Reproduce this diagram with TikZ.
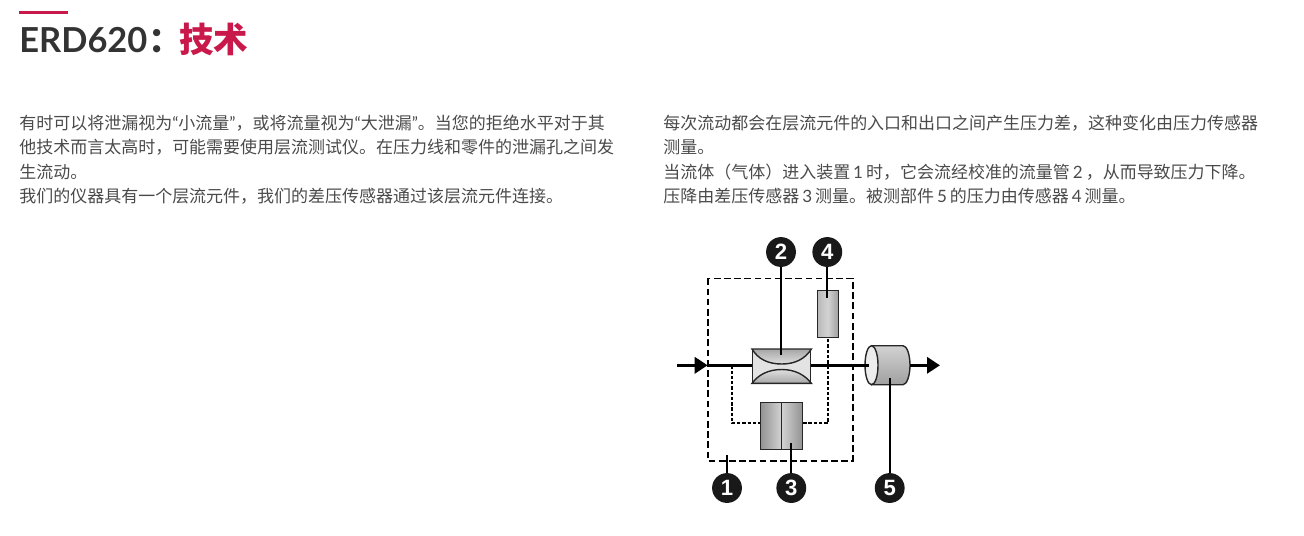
\documentclass[tikz,border=0pt]{standalone}
\usepackage{fontspec}
\setmainfont{Lato}
\newfontfamily\cjk{Noto Sans CJK SC}
\newcommand{\lat}[1]{{\rmfamily #1}}
\newcommand{\dgt}[1]{\hspace{1.7pt}{\rmfamily #1}\hspace{1.7pt}}
\usetikzlibrary{arrows.meta,shapes.geometric}
\definecolor{crimson}{HTML}{C9184A}
\definecolor{inktext}{HTML}{4A4A4A}
\definecolor{inkhead}{HTML}{333333}
\tikzset{
	bodyline/.style={anchor=base west, inner sep=0pt, text=inktext, font=\fontsize{9.67pt}{11pt}\selectfont\cjk},
	headline/.style={anchor=base west, inner sep=0pt, font=\fontsize{19.6pt}{22pt}\selectfont\bfseries},
	callout/.style={circle, fill=black!90, text=white, inner sep=0pt, minimum size=17pt, font=\fontsize{12.6pt}{13pt}\selectfont\fontspec{Liberation Sans Bold}},
	leader/.style={line width=1.25pt},
	flowline/.style={line width=2pt},
	senseline/.style={line width=1.15pt, dash pattern=on 1.9pt off 1.1pt},
	unit/.style={draw=black!85, line width=0.8pt, inner sep=0pt},
}
\begin{document}
\begin{tikzpicture}[x=0.02cm,y=-0.02cm]
	\useasboundingbox (0,0) rectangle (1304,535);
	% heading
	\fill[crimson] (19,11) rectangle (68,14);
	\node[headline, text=inkhead] (title) at (19,52.5) {ERD620};
	\node[headline, text=inkhead, font=\fontsize{19.6pt}{22pt}\selectfont\cjk\bfseries] (colon) at (title.base east) {^^^^ff1a};
	\node[headline, text=crimson, font=\fontsize{19.6pt}{22pt}\selectfont\cjk\bfseries] (topic) at (179,52.5) {技术};

	% left column
	\node[bodyline] (la) at (19,129) {有时可以将泄漏视为\lat{“}小流量\lat{”}^^^^ff0c或将流量视为\lat{“}大泄漏\lat{”}。当您的拒绝水平对于其};
	\node[bodyline] (lb) at (19,153) {他技术而言太高时^^^^ff0c可能需要使用层流测试仪。在压力线和零件的泄漏孔之间发};
	\node[bodyline] (lc) at (19,178) {生流动。};
	\node[bodyline] (ld) at (19,202) {我们的仪器具有一个层流元件^^^^ff0c我们的差压传感器通过该层流元件连接。};

	% right column
	\node[bodyline] (ra) at (663,129) {每次流动都会在层流元件的入口和出口之间产生压力差^^^^ff0c这种变化由压力传感器};
	\node[bodyline] (rb) at (663,153) {测量。};
	\node[bodyline] (rc) at (663,178) {当流体^^^^ff08气体^^^^ff09进入装置\dgt{1}时^^^^ff0c它会流经校准的流量管\dgt{2}^^^^ff0c从而导致压力下降。};
	\node[bodyline] (rd) at (663,202) {压降由差压传感器\dgt{3}测量。被测部件\dgt{5}的压力由传感器\dgt{4}测量。};

	% device boundary
	\draw[line width=0.9pt, dash pattern=on 3.8pt off 2pt] (707.7,278.3) rectangle (852.7,460.7);

	% laminar element
	\node[unit, minimum width=1.16cm, minimum height=0.66cm, fill=gray!22] (lam) at (781.7,366.2) {};
	\draw[line width=0.8pt, draw=black!85, top color=gray!70, bottom color=gray!25] (lam.north west) .. controls (758,359) and (768,364) .. (781.7,364) .. controls (795,364) and (805,359) .. (lam.north east) -- cycle;
	\draw[line width=0.8pt, draw=black!85, top color=gray!25, bottom color=gray!70] (lam.south west) .. controls (758,375) and (768,369.5) .. (781.7,369.5) .. controls (795,369.5) and (805,375) .. (lam.south east) -- cycle;

	% sensors
	\node[unit, minimum width=0.42cm, minimum height=0.95cm, left color=gray!55, right color=gray!75, middle color=gray!35] (senspress) at (827.8,314) {};
	\node[unit, minimum width=0.42cm, minimum height=0.95cm, left color=gray!85, right color=gray!35] (diffa) at (771,426) {};
	\node[unit, minimum width=0.42cm, minimum height=0.95cm, left color=gray!35, right color=gray!85] (diffb) at (792,426) {};

	% part under test
	\draw[line width=0.8pt, draw=black!85, top color=gray!35, bottom color=gray!75] (871.5,345.7) -- (903,345.7) .. controls (907,345.7) and (910,355) .. (910,365.2) .. controls (910,375) and (907,384.7) .. (903,384.7) -- (871.5,384.7) -- cycle;
	\node[ellipse, draw=black!85, line width=0.8pt, fill=gray!15, inner sep=0pt, minimum width=0.26cm, minimum height=0.78cm] (cap) at (871.5,365.2) {};

	% main flow
	\coordinate (inlet) at (677.3,365.3);
	\coordinate (tipin) at (707.7,365.3);
	\coordinate (capin) at (869,365.3);
	\coordinate (capout) at (910,365.3);
	\coordinate (outlet) at (940,365.3);
	\coordinate (branch) at (731.7,365.3);
	\draw[flowline, -{Triangle[length=0.26cm,width=0.32cm]}] (inlet) -- (tipin);
	\draw[flowline] (tipin) -- (tipin -| lam.west);
	\draw[flowline] (tipin -| lam.east) -- (capin);
	\draw[flowline, -{Triangle[length=0.26cm,width=0.32cm]}] (capout) -- (outlet);

	% sensor lines
	\coordinate (low) at (731.7,423.3);
	\coordinate (high) at (827.8,423.3);
	\draw[senseline] (branch) -- (low) -- (low -| diffa.west);
	\draw[senseline] (high -| diffb.east) -- (high) -- (senspress.south);

	% callouts
	\node[callout] (one) at (727,488) {1};
	\node[callout] (two) at (781,252) {2};
	\node[callout] (three) at (791.3,488) {3};
	\node[callout] (four) at (827.3,252) {4};
	\node[callout] (five) at (889.7,488) {5};
	\coordinate (onep) at (727,455);
	\coordinate (twop) at (781,355);
	\coordinate (threep) at (791.3,443);
	\coordinate (fourp) at (827.3,298);
	\coordinate (fivep) at (889.7,378);
	\draw[leader] (one) -- (onep);
	\draw[leader] (two) -- (twop);
	\draw[leader] (three) -- (threep);
	\draw[leader] (four) -- (fourp);
	\draw[leader] (five) -- (fivep);
\end{tikzpicture}
\end{document}
